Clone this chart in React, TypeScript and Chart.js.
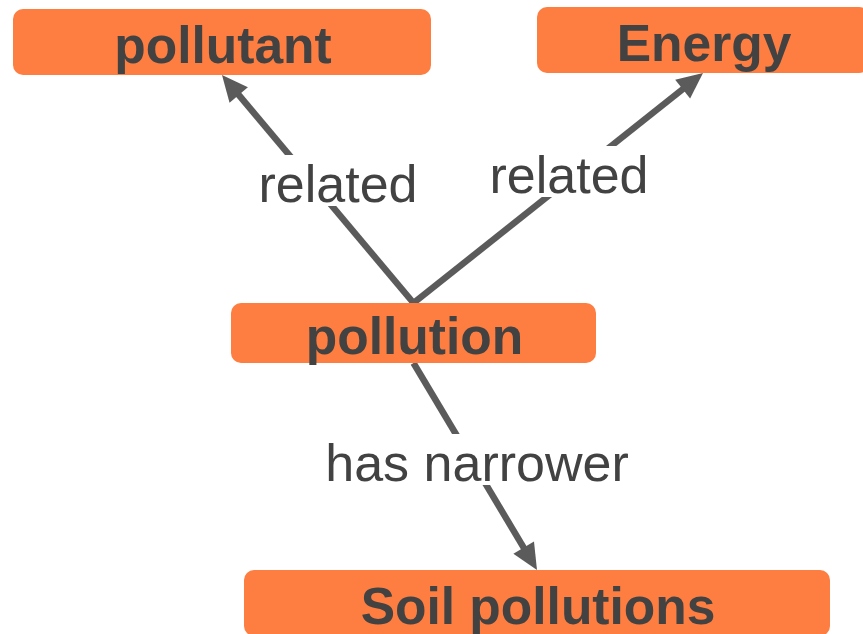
import React, { useEffect, useRef } from "react";
import { Chart, registerables } from "chart.js";

Chart.register(...registerables);

// Concept nodes (layout coordinates in a 863 x 634 data space)
const nodeLabels = ["pollutant", "Energy", "pollution", "Soil pollutions"];
const nodeX = [222, 703, 413.5, 537];
const nodeY = [42, 40, 333, 603];
const nodeW = [418, 332, 365, 586];
const nodeH = [66, 66, 60, 66];

// Relations
const edgeFrom = [2, 2, 2];
const edgeTo = [0, 1, 3];
const edgeLabels = ["related", "related", "has narrower"];
const edgeLabelX = [338, 569, 477];
const edgeLabelY = [202, 193, 481];

const ORANGE = "#fe7d40";
const TEXT = "#424242";
const LINE = "#5b5b5b";

const graphPlugin = {
  id: "graphPlugin",
  afterDatasetsDraw(chart: any) {
    const ctx = chart.ctx as CanvasRenderingContext2D;
    const xs = chart.scales.x;
    const ys = chart.scales.y;
    const px = (v: number) => xs.getPixelForValue(v);
    const py = (v: number) => ys.getPixelForValue(v);
    const pw = (v: number) => Math.abs(xs.getPixelForValue(v) - xs.getPixelForValue(0));
    const ph = (v: number) => Math.abs(ys.getPixelForValue(v) - ys.getPixelForValue(0));

    ctx.save();
    // edges
    for (let i = 0; i < edgeFrom.length; i++) {
      const s = edgeFrom[i];
      const t = edgeTo[i];
      const up = nodeY[t] < nodeY[s];
      const x1 = px(nodeX[s]);
      const y1 = py(up ? nodeY[s] - nodeH[s] / 2 : nodeY[s] + nodeH[s] / 2);
      const x2 = px(nodeX[t]);
      const y2 = py(up ? nodeY[t] + nodeH[t] / 2 : nodeY[t] - nodeH[t] / 2);
      const ang = Math.atan2(y2 - y1, x2 - x1);
      const headLen = 26;
      const headHalf = 12;
      const bx = x2 - headLen * Math.cos(ang);
      const by = y2 - headLen * Math.sin(ang);
      ctx.strokeStyle = LINE;
      ctx.lineWidth = 6.5;
      ctx.lineCap = "butt";
      ctx.beginPath();
      ctx.moveTo(x1, y1);
      ctx.lineTo(bx + 2 * Math.cos(ang), by + 2 * Math.sin(ang));
      ctx.stroke();
      ctx.fillStyle = LINE;
      ctx.beginPath();
      ctx.moveTo(x2, y2);
      ctx.lineTo(bx - headHalf * Math.sin(ang), by + headHalf * Math.cos(ang));
      ctx.lineTo(bx + headHalf * Math.sin(ang), by - headHalf * Math.cos(ang));
      ctx.closePath();
      ctx.fill();
    }
    // edge labels with white backing
    ctx.font = "52px 'Liberation Sans', Arial, sans-serif";
    ctx.textAlign = "center";
    ctx.textBaseline = "alphabetic";
    for (let i = 0; i < edgeLabels.length; i++) {
      const cx = px(edgeLabelX[i]);
      const by = py(edgeLabelY[i]);
      const w = ctx.measureText(edgeLabels[i]).width + 6;
      ctx.fillStyle = "#ffffff";
      ctx.fillRect(cx - w / 2, by - 47, w, 51);
      ctx.fillStyle = TEXT;
      ctx.fillText(edgeLabels[i], cx, by);
    }
    // nodes
    for (let i = 0; i < nodeLabels.length; i++) {
      const w = pw(nodeW[i]);
      const h = ph(nodeH[i]);
      const cx = px(nodeX[i]);
      const cy = py(nodeY[i]);
      ctx.fillStyle = ORANGE;
      ctx.beginPath();
      (ctx as any).roundRect(cx - w / 2, cy - h / 2, w, h, 10);
      ctx.fill();
      ctx.fillStyle = TEXT;
      ctx.font = "bold 51.5px 'Liberation Sans', Arial, sans-serif";
      ctx.textAlign = "center";
      ctx.textBaseline = "alphabetic";
      ctx.fillText(nodeLabels[i], cx + 1, cy + 21);
    }
    ctx.restore();
  },
};

export default function App() {
  const ref = useRef<HTMLCanvasElement | null>(null);
  useEffect(() => {
    if (!ref.current) return;
    const chart = new Chart(ref.current, {
      type: "scatter",
      data: {
        datasets: [
          {
            label: "nodes",
            data: nodeLabels.map((_, i) => ({ x: nodeX[i], y: nodeY[i] })),
            pointRadius: 0,
            pointHoverRadius: 0,
          },
        ],
      },
      options: {
        responsive: false,
        animation: false,
        maintainAspectRatio: false,
        layout: { padding: 0 },
        events: [],
        plugins: { legend: { display: false }, tooltip: { enabled: false } },
        scales: {
          x: { type: "linear", min: 0, max: 863, display: false },
          y: { type: "linear", min: 0, max: 634, reverse: true, display: false },
        },
      },
      plugins: [graphPlugin],
    });
    return () => chart.destroy();
  }, []);
  return (
    <div style={{ position: "fixed", left: 0, top: 0, width: 863, height: 634, background: "#fff" }}>
      <canvas ref={ref} width={863} height={634} style={{ display: "block" }} />
    </div>
  );
}
